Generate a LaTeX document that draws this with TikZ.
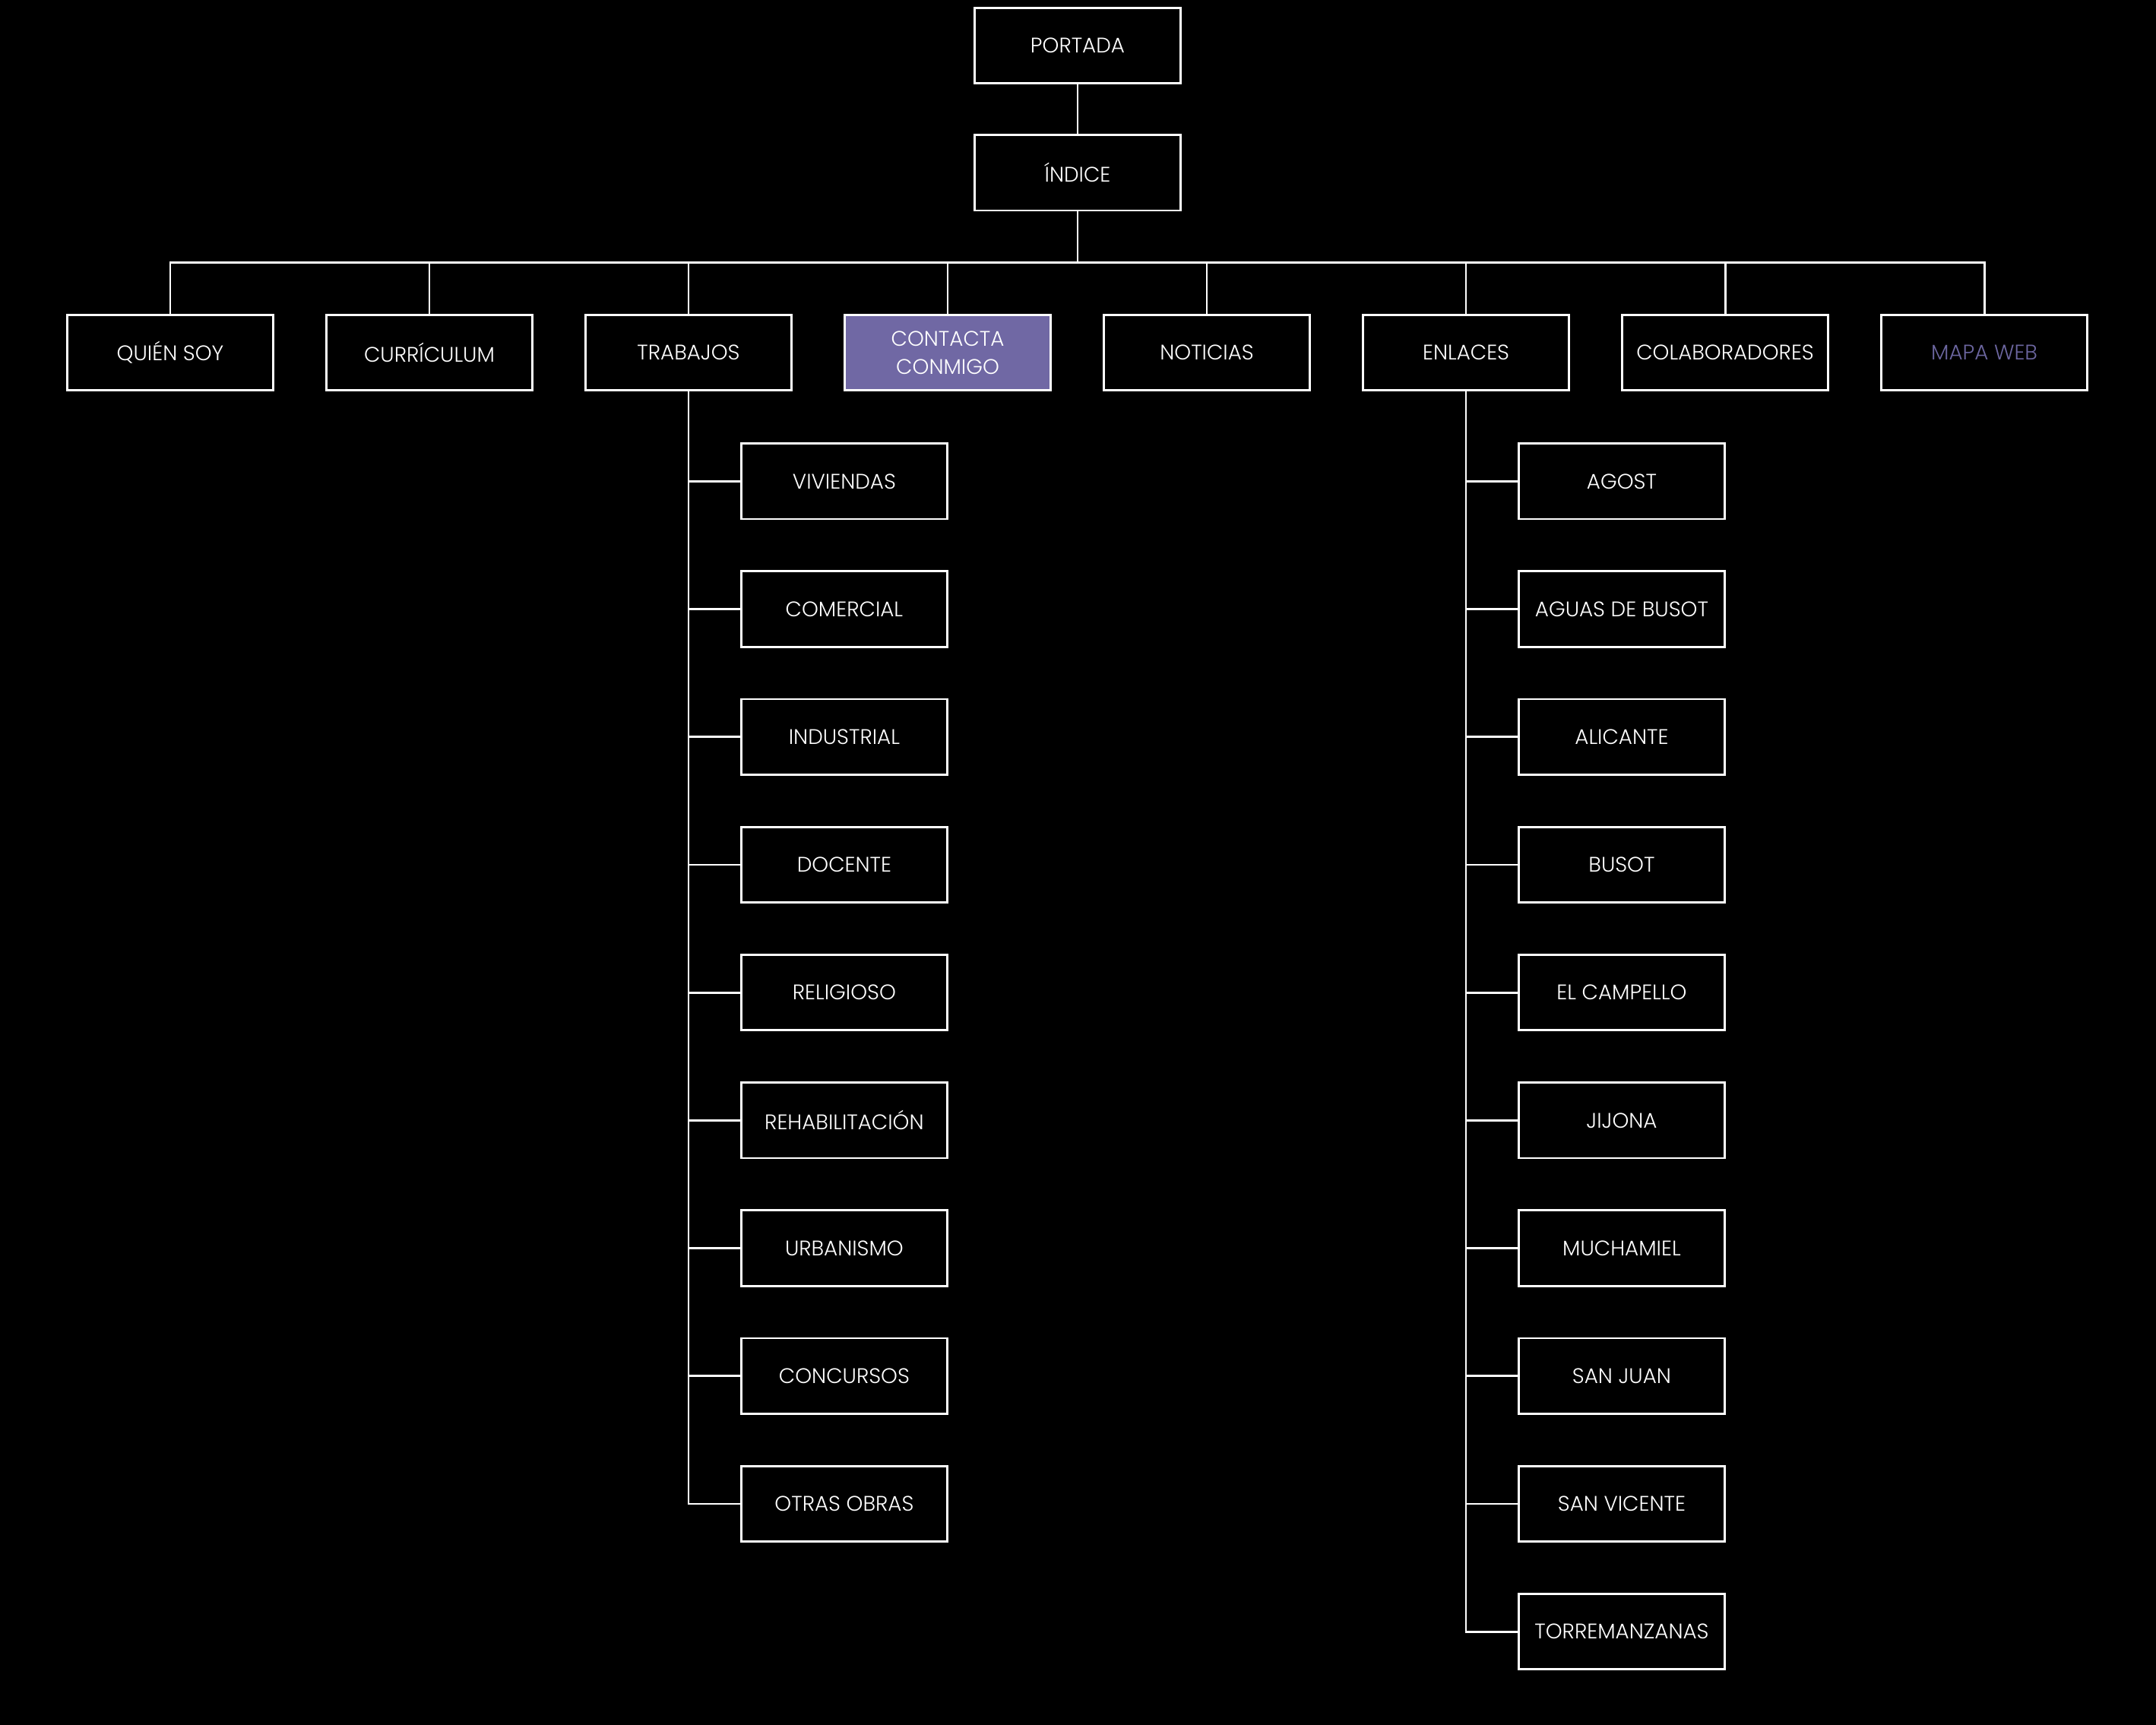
\documentclass[tikz,border=0pt]{standalone}
\usepackage{fontspec}
\setmainfont{Poppins}[UprightFont=* Light]
\usepackage{tikz}
\usetikzlibrary{positioning, calc}
\definecolor{webpurple}{HTML}{7068A4}
\definecolor{maptext}{HTML}{6C66A0}

\begin{document}
\begin{tikzpicture}[
  font=\fontsize{7.9}{10.6}\selectfont,
  box/.style={draw=white, line width=0.8pt, minimum width=27.1mm, minimum height=9.95mm,
              align=center, inner sep=2pt, fill=black, text=white},
  hot/.style={box, fill=webpurple},
  link/.style={draw=white, line width=0.8pt},
  node distance=6.5mm and 6.72mm
]
  % page background
  \fill[black] (0,0) rectangle (283.7mm,-227mm);
  \useasboundingbox (0,0) rectangle (283.7mm,-227mm);

  \node[box] (portada) at (141.8mm,-6mm) {PORTADA};
  \node[box, below=of portada] (indice) {ÍNDICE};

  % main sections
  \node[box] (quien) at (22.4mm,-46.4mm) {QUIÉN SOY};
  \node[box, right=of quien]   (curri)    {CURRÍCULUM};
  \node[box, right=of curri]   (trabajos) {TRABAJOS};
  \node[hot, right=of trabajos] (contacta) {CONTACTA\\CONMIGO};
  \node[box, right=of contacta] (noticias) {NOTICIAS};
  \node[box, right=of noticias] (enlaces)  {ENLACES};
  \node[box, right=of enlaces]  (colab)    {COLABORADORES};
  \node[box, right=of colab, text=maptext] (mapa) {MAPA WEB};

  \draw[link] (portada) -- (indice);
  \coordinate (bus) at ($(indice.south)!.5!(indice.south |- quien.north)$);
  \draw[link] (indice.south) -- (bus);
  \foreach \n in {quien,curri,trabajos,contacta,noticias,enlaces,colab,mapa}
    \draw[link] (\n.north) |- (bus);

  % trabajos
  \foreach \t [count=\i] in {VIVIENDAS,COMERCIAL,INDUSTRIAL,DOCENTE,RELIGIOSO,
                             REHABILITACIÓN,URBANISMO,CONCURSOS,OTRAS OBRAS}{
    \node[box, anchor=north west] (tr\i)
      at ($(trabajos.south)+(6.8mm,{-6.7mm-(\i-1)*16.82mm})$) {\t};
    \draw[link] (trabajos.south) |- (tr\i.west);
  }

  % enlaces
  \foreach \t [count=\i] in {AGOST,AGUAS DE BUSOT,ALICANTE,BUSOT,EL CAMPELLO,
                             JIJONA,MUCHAMIEL,SAN JUAN,SAN VICENTE,TORREMANZANAS}{
    \node[box, anchor=north west] (en\i)
      at ($(enlaces.south)+(6.8mm,{-6.7mm-(\i-1)*16.82mm})$) {\t};
    \draw[link] (enlaces.south) |- (en\i.west);
  }
\end{tikzpicture}
\end{document}
